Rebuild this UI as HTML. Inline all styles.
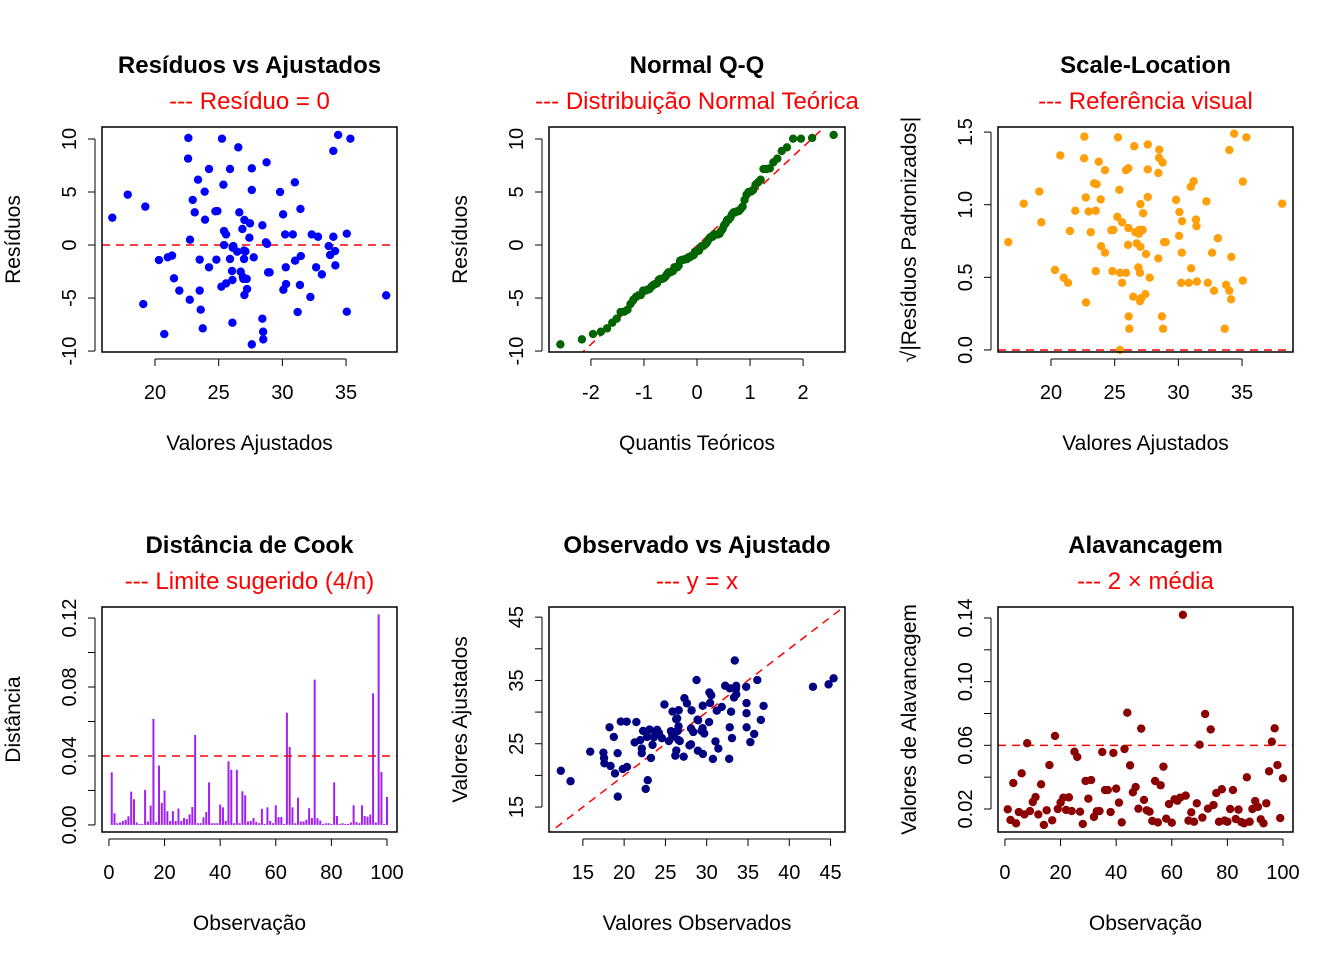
<!DOCTYPE html>
<html><head><meta charset="utf-8"><style>
html,body{margin:0;padding:0;background:#fff;}
svg{display:block;font-family:"Liberation Sans",Arial,sans-serif;}
</style></head><body>
<svg id="c" width="1344" height="960" viewBox="0 0 1344 960" xmlns="http://www.w3.org/2000/svg"></svg>
<script>
const fitted=[16.65,17.86,19.24,19.08,20.73,20.31,21.0,21.34,21.49,21.91,22.62,22.6,22.75,22.73,22.96,23.12,23.38,23.51,23.51,23.59,23.75,23.9,23.93,24.24,24.24,24.74,24.9,24.82,25.26,25.37,25.42,25.58,25.42,25.89,25.89,26.05,25.21,25.58,26.08,26.08,26.1,26.54,26.62,26.46,26.73,26.86,26.99,26.99,27.02,26.94,27.2,27.23,27.02,27.46,27.41,27.6,27.6,27.75,27.6,28.43,28.43,28.49,28.5,28.76,28.71,28.88,29.0,29.82,30.06,30.22,30.82,30.27,30.29,30.08,30.98,31.0,31.42,31.45,31.38,31.2,32.2,32.31,32.8,32.65,33.1,34.0,34.38,35.34,34.0,33.64,33.75,34.14,34.16,35.06,35.06,38.15,27.1,26.15,26.9,28.8];
const residuals=[2.58,4.75,3.62,-5.57,-8.4,-1.42,-1.16,-1.0,-3.14,-4.3,10.1,8.15,0.5,-5.16,4.25,3.08,6.16,-1.38,-4.3,-6.1,-7.86,5.03,2.39,7.17,-2.1,3.18,3.2,-1.38,10.03,5.69,1.32,1.0,0.0,7.17,-1.32,-2.45,-3.93,-3.62,-3.3,-7.33,-0.25,9.21,3.08,-0.63,-2.52,1.51,-0.53,-1.32,2.36,-3.2,-3.2,-4.15,-4.72,2.04,0.69,7.23,5.19,-1.16,-9.37,1.86,-6.95,-8.18,-8.9,7.8,0.25,-2.58,-2.58,5.0,2.89,1.0,1.0,-2.1,-3.68,-4.22,5.91,-1.48,3.4,-1.04,-3.77,-6.32,-4.9,1.0,0.78,-2.1,-2.77,8.87,10.38,10.03,0.78,-0.1,-0.94,-0.57,-1.92,1.07,-6.29,-4.75,-0.6,-0.1,-3.0,0.1];
const cooks=[0.0305,0.0068,0.001,0.0014,0.0023,0.003,0.005,0.0193,0.0149,0.0014,0.0006,0.0006,0.0203,0.002,0.0112,0.0615,0.0017,0.0344,0.0128,0.0199,0.008,0.0023,0.008,0.0023,0.0095,0.0023,0.004,0.0035,0.0062,0.0104,0.0522,0.001,0.001,0.0044,0.0075,0.0247,0.001,0.001,0.001,0.0118,0.0102,0.0023,0.0369,0.032,0.001,0.032,0.001,0.0195,0.0172,0.002,0.0023,0.004,0.0017,0.001,0.0093,0.0006,0.0102,0.0023,0.001,0.0114,0.0046,0.0046,0.0006,0.0651,0.0452,0.0102,0.001,0.0158,0.002,0.002,0.003,0.0097,0.004,0.0843,0.0039,0.0025,0.0006,0.001,0.001,0.0006,0.0247,0.0052,0.0006,0.001,0.0006,0.0006,0.0014,0.0114,0.0017,0.001,0.0114,0.0052,0.0048,0.006,0.0763,0.0014,0.1221,0.0307,0.0006,0.0162];
const leverage=[0.0198,0.0131,0.0363,0.011,0.0181,0.0424,0.0166,0.0613,0.0187,0.0244,0.0275,0.0166,0.0355,0.010,0.0192,0.0476,0.0129,0.0659,0.020,0.024,0.0271,0.0194,0.0273,0.0187,0.056,0.0527,0.0183,0.0106,0.0376,0.0265,0.0382,0.015,0.0185,0.0187,0.0558,0.0319,0.0319,0.0181,0.0552,0.0328,0.024,0.0116,0.0577,0.0805,0.0474,0.0305,0.0338,0.0202,0.0705,0.0257,0.0192,0.0183,0.0125,0.0376,0.0116,0.0349,0.0466,0.0139,0.0231,0.0114,0.0261,0.0252,0.0271,0.142,0.0284,0.0127,0.0179,0.012,0.0236,0.0604,0.0146,0.0797,0.0202,0.070,0.0225,0.030,0.012,0.0324,0.0127,0.012,0.020,0.0319,0.0137,0.0196,0.0118,0.011,0.0399,0.012,0.020,0.025,0.0213,0.0135,0.011,0.0236,0.0437,0.0623,0.0707,0.0476,0.0143,0.0393];
const cookLimit=0.04, levLimit=0.06;

const svg=document.getElementById('c');
const NS='http://www.w3.org/2000/svg';
function mk(tag,attrs,parent,name,inter){const e=document.createElementNS(NS,tag);for(const k in attrs)e.setAttribute(k,attrs[k]);


(parent||svg).appendChild(e);return e;}
function txt(s,x,y,size,attrs,parent,name){const e=mk('text',Object.assign({x:x,y:y,'font-size':size,'text-anchor':'middle'},attrs||{}),parent,name,false);e.textContent=s;return e;}

function qnorm(p){const a=[-39.6968302866538,220.946098424521,-275.928510446969,138.357751867269,-30.6647980661472,2.50662827745924],b=[-54.4760987982241,161.585836858041,-155.698979859887,66.8013118877197,-13.2806815528857],c=[-0.00778489400243029,-0.322396458041136,-2.40075827716184,-2.54973253934373,4.37466414146317,2.93816398269878],d=[0.00778469570904146,0.32246712907004,2.445134137143,3.75440866190742];let q,r;
if(p<0.02425){q=Math.sqrt(-2*Math.log(p));return(((((c[0]*q+c[1])*q+c[2])*q+c[3])*q+c[4])*q+c[5])/((((d[0]*q+d[1])*q+d[2])*q+d[3])*q+1);}
if(p>1-0.02425){q=Math.sqrt(-2*Math.log(1-p));return-(((((c[0]*q+c[1])*q+c[2])*q+c[3])*q+c[4])*q+c[5])/((((d[0]*q+d[1])*q+d[2])*q+d[3])*q+1);}
q=p-0.5;r=q*q;return(((((a[0]*r+a[1])*r+a[2])*r+a[3])*r+a[4])*r+a[5])*q/(((((b[0]*r+b[1])*r+b[2])*r+b[3])*r+b[4])*r+1);}

function panel(o){
  const g=mk('g',{},svg,o.name,false);
  const L=o.x,T=o.y,W=o.w,H=o.h;
  const sx=v=>L+(v-o.xr[0])/(o.xr[1]-o.xr[0])*W;
  const sy=v=>T+H-(v-o.yr[0])/(o.yr[1]-o.yr[0])*H;
  const cx=L+W/2;
  txt(o.title,cx,T-54,24,{'font-weight':'bold'},g,'panel-title');
  txt(o.sub,cx,T-18,24,{fill:'#ff0000'},g,'panel-subtitle');
  txt(o.xlab,cx,T+H+98,21,{},g,'x-axis-title');
  txt(o.ylab,0,0,21,{transform:`translate(${L-82},${T+H/2}) rotate(-90)`},g,'y-axis-title');
  const pg=mk('g',{},g,'plot-area',false);
  o.draw(pg,sx,sy);
  mk('rect',{x:L,y:T,width:W,height:H,fill:'none',stroke:'#000','stroke-width':1.5},g,'plot-box',false);
  const xa=mk('g',{},g,'x-axis',false);
  const xt=o.xticks;
  mk('line',{x1:sx(xt[0]),x2:sx(xt[xt.length-1]),y1:T+H+7,y2:T+H+7,stroke:'#000','stroke-width':1},xa,'x-axis-line',false);
  xt.forEach(v=>{mk('line',{x1:sx(v),x2:sx(v),y1:T+H+7,y2:T+H+14,stroke:'#000'},xa,'x-tick',false);});
  o.xlabels.forEach(v=>txt(String(v),sx(v),T+H+47,20,{},xa,'x-tick-label'));
  const ya=mk('g',{},g,'y-axis',false);
  const yt=o.yticks;
  mk('line',{x1:L-7,x2:L-7,y1:sy(yt[0]),y2:sy(yt[yt.length-1]),stroke:'#000'},ya,'y-axis-line',false);
  yt.forEach(v=>{mk('line',{x1:L-14,x2:L-7,y1:sy(v),y2:sy(v),stroke:'#000'},ya,'y-tick',false);});
  o.ylabels.forEach(v=>txt(o.yfmt?o.yfmt(v):String(v),0,0,20,{transform:`translate(${L-26},${sy(v)}) rotate(-90)`},ya,'y-tick-label'));
}
function dots(pg,xs,ys,sx,sy,col,name){xs.forEach((v,i)=>{mk('circle',{cx:sx(v),cy:sy(ys[i]),r:4.2,fill:col},pg,name,false);});}
function hline(pg,v,x1,x2,sy){mk('line',{x1:x1,x2:x2,y1:sy(v),y2:sy(v),stroke:'#ff0000','stroke-width':1.5,'stroke-dasharray':'8,6'},pg,'reference-line',false);}

const n=residuals.length;
const sigma=Math.sqrt(residuals.reduce((s,r)=>s+r*r,0)/(n-2));
const sqrtStd=residuals.map(r=>Math.sqrt(Math.abs(r)/sigma));
const sortedRes=residuals.slice().sort((a,b)=>a-b);
const theo=sortedRes.map((_,i)=>qnorm((i+0.5)/n));
const observed=fitted.map((f,i)=>f+residuals[i]);
const idx=cooks.map((_,i)=>i+1);

panel({name:'residuals-vs-fitted-panel',x:102,y:127,w:295,h:225,xr:[15.84,39.0],yr:[-10.09,11.13],title:'Resíduos vs Ajustados',sub:'--- Resíduo = 0',xlab:'Valores Ajustados',ylab:'Resíduos',xticks:[20,25,30,35],xlabels:[20,25,30,35],yticks:[-10,-5,0,5,10],ylabels:[-10,-5,0,5,10],
 draw:(pg,sx,sy)=>{hline(pg,0,102,397,sy);dots(pg,fitted,residuals,sx,sy,'#0000ff','residual-point');}});
panel({name:'normal-qq-panel',x:549,y:127,w:296,h:225,xr:[-2.79,2.79],yr:[-10.09,11.13],title:'Normal Q-Q',sub:'--- Distribuição Normal Teórica',xlab:'Quantis Teóricos',ylab:'Resíduos',xticks:[-2,-1,0,1,2],xlabels:[-2,-1,0,1,2],yticks:[-10,-5,0,5,10],ylabels:[-10,-5,0,5,10],
 draw:(pg,sx,sy)=>{const q1=sortedRes[Math.floor(n*0.25)],q3=sortedRes[Math.floor(n*0.75)];const z1=qnorm(0.25),z3=qnorm(0.75);const sl=(q3-q1)/(z3-z1),ic=q1-sl*z1;
 const cp=mk('clipPath',{id:'qqclip'},pg,'clip',false);mk('rect',{x:549,y:127,width:296,height:225},cp,'clip-rect',false);
 mk('line',{x1:sx(-3),y1:sy(ic-3*sl),x2:sx(3),y2:sy(ic+3*sl),stroke:'#ff0000','stroke-width':1.5,'stroke-dasharray':'8,6','clip-path':'url(#qqclip)'},pg,'qq-line',false);
 dots(pg,theo,sortedRes,sx,sy,'#006400','qq-point');}});
panel({name:'scale-location-panel',x:998,y:127,w:295,h:225,xr:[15.84,39.0],yr:[-0.014,1.535],title:'Scale-Location',sub:'--- Referência visual',xlab:'Valores Ajustados',ylab:'√|Resíduos Padronizados|',xticks:[20,25,30,35],xlabels:[20,25,30,35],yticks:[0,0.5,1,1.5],ylabels:[0,0.5,1,1.5],yfmt:v=>v.toFixed(1),
 draw:(pg,sx,sy)=>{hline(pg,0,998,1293,sy);dots(pg,fitted,sqrtStd,sx,sy,'#ff9f0a','scale-point');}});
panel({name:'cooks-distance-panel',x:102,y:607,w:295,h:225,xr:[-2.5,103.6],yr:[-0.0041,0.1264],title:'Distância de Cook',sub:'--- Limite sugerido (4/n)',xlab:'Observação',ylab:'Distância',xticks:[0,20,40,60,80,100],xlabels:[0,20,40,60,80,100],yticks:[0,0.02,0.04,0.06,0.08,0.1,0.12],ylabels:[0,0.04,0.08,0.12],yfmt:v=>v.toFixed(2),
 draw:(pg,sx,sy)=>{idx.forEach((v,i)=>{mk('line',{x1:sx(v),x2:sx(v),y1:sy(0),y2:sy(cooks[i]),stroke:'#a020f0','stroke-width':2},pg,'cook-bar',false);});hline(pg,cookLimit,102,397,sy);}});
panel({name:'observed-vs-fitted-panel',x:549,y:607,w:296,h:225,xr:[10.9,46.75],yr:[11.06,46.6],title:'Observado vs Ajustado',sub:'--- y = x',xlab:'Valores Observados',ylab:'Valores Ajustados',xticks:[15,20,25,30,35,40,45],xlabels:[15,20,25,30,35,40,45],yticks:[15,20,25,30,35,40,45],ylabels:[15,25,35,45],
 draw:(pg,sx,sy)=>{const cp=mk('clipPath',{id:'ovclip'},pg,'clip',false);mk('rect',{x:549,y:607,width:296,height:225},cp,'clip-rect',false);
 mk('line',{x1:sx(5),y1:sy(5),x2:sx(50),y2:sy(50),stroke:'#ff0000','stroke-width':1.5,'stroke-dasharray':'8,6','clip-path':'url(#ovclip)'},pg,'identity-line',false);
 dots(pg,observed,fitted,sx,sy,'#000080','observed-point');}});
panel({name:'leverage-panel',x:998,y:607,w:295,h:225,xr:[-2.5,103.6],yr:[0.00555,0.1469],title:'Alavancagem',sub:'--- 2 × média',xlab:'Observação',ylab:'Valores de Alavancagem',xticks:[0,20,40,60,80,100],xlabels:[0,20,40,60,80,100],yticks:[0.02,0.04,0.06,0.08,0.1,0.12,0.14],ylabels:[0.02,0.06,0.1,0.14],yfmt:v=>v.toFixed(2),
 draw:(pg,sx,sy)=>{hline(pg,levLimit,998,1293,sy);dots(pg,idx,leverage,sx,sy,'#8b0000','leverage-point');}});
</script>
</body></html>
